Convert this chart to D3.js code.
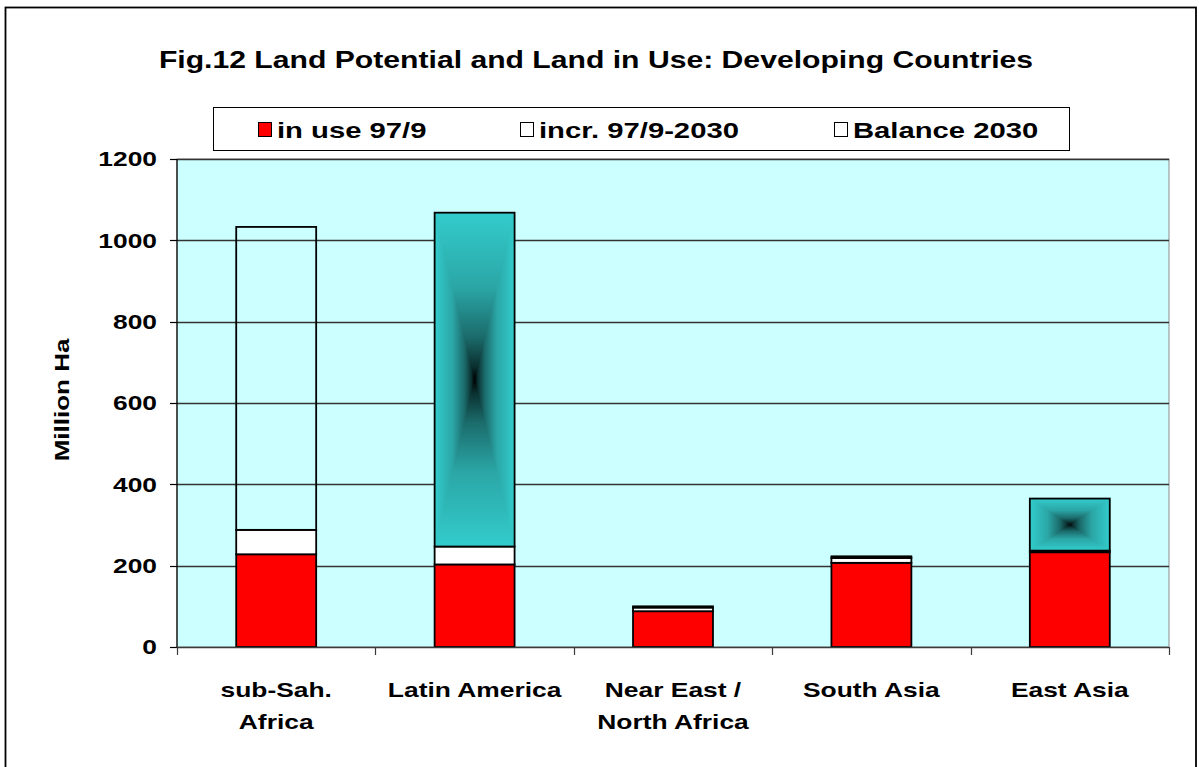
<!DOCTYPE html>
<html>
<head>
<meta charset="utf-8">
<script src="https://cdn.jsdelivr.net/npm/d3@7/dist/d3.min.js"></script>
<style>
  html, body { margin: 0; padding: 0; background: #fff; }
  svg { display: block; }
  text { font-family: "Liberation Sans", Arial, sans-serif; font-weight: bold; fill: #000; }
</style>
</head>
<body>
<svg id="chart" width="1199" height="767"></svg>
<script>
// Land potential and land in use, developing regions (million ha)
const categories = ["sub-Sah. Africa", "Latin America", "Near East / North Africa", "South Asia", "East Asia"];
const categoryLines = [["sub-Sah.", "Africa"], ["Latin America"], ["Near East /", "North Africa"], ["South Asia"], ["East Asia"]];
const inUse = [228, 203, 88, 207, 233];
const incr = [60, 44, 9, 12, 4];
const balance = [745, 821, 3, 4, 128];
const seriesKeys = ["inUse", "incr", "balance"];
const seriesNames = ["in use 97/9", "incr. 97/9-2030", "Balance 2030"];
const yTicks = [0, 200, 400, 600, 800, 1000, 1200];
const titleText = "Fig.12 Land Potential and Land in Use: Developing Countries";
const yTitle = "Million Ha";

// balance segments drawn with the dark centre shading
const shadedBalance = new Set(["Latin America", "East Asia"]);

const svg = d3.select("#chart");
const SX = 1.3; // horizontal text stretch

const plot = { left: 177, right: 1169, top: 159, bottom: 647 };

const x = d3.scaleBand()
  .domain(categories)
  .range([plot.left, plot.right])
  .paddingInner(0.597)
  .paddingOuter(0.2985);

const slot = d3.scaleBand().domain(categories).range([plot.left, plot.right]).padding(0);

const y = d3.scaleLinear().domain([0, 1200]).range([plot.bottom, plot.top]);

// outer frame
svg.append("rect")
  .attr("x", 5.5).attr("y", 7.5)
  .attr("width", 1190.5).attr("height", 800)
  .attr("fill", "#fff").attr("stroke", "#000").attr("stroke-width", 1.8);

// gradients: teal at the edge, black at the centre
const defs = svg.append("defs");
const rampStops = [
  [0, "#33cccc"], [0.45, "#2ba6a6"], [0.75, "#1b6a6a"], [0.92, "#0b3030"], [1, "#000000"]
];
function makeGrad(id, x1, y1, x2, y2) {
  const g = defs.append("linearGradient").attr("id", id)
    .attr("x1", x1).attr("y1", y1).attr("x2", x2).attr("y2", y2);
  g.selectAll("stop").data(rampStops).join("stop")
    .attr("offset", d => d[0]).attr("stop-color", d => d[1]);
}
makeGrad("g-top", 0, 0, 0, 1);
makeGrad("g-bottom", 0, 1, 0, 0);
makeGrad("g-left", 0, 0, 1, 0);
makeGrad("g-right", 1, 0, 0, 0);

// plot area
svg.append("rect")
  .attr("x", plot.left).attr("y", plot.top)
  .attr("width", plot.right - plot.left).attr("height", plot.bottom - plot.top)
  .attr("fill", "#ccffff").attr("stroke", "#8c8c8c").attr("stroke-width", 1);

// gridlines
svg.append("g").selectAll("line").data(yTicks.filter(d => d > 0)).join("line")
  .attr("x1", plot.left).attr("x2", plot.right)
  .attr("y1", d => Math.round(y(d)) + 0.5).attr("y2", d => Math.round(y(d)) + 0.5)
  .attr("stroke", "#333").attr("stroke-width", 1.3);

// stacked data
const rows = categories.map((c, i) => ({ cat: c, inUse: inUse[i], incr: incr[i], balance: balance[i] }));
const stacked = d3.stack().keys(seriesKeys)(rows);

const fills = { inUse: "#ff0000", incr: "#ffffff", balance: "none" };

const barG = svg.append("g");

stacked.forEach(series => {
  const key = series.key;
  series.forEach(seg => {
    const cat = seg.data.cat;
    const x0 = x(cat), x1 = x(cat) + x.bandwidth();
    const yTop = y(seg[1]), yBot = y(seg[0]);
    const g = barG.append("g");
    if (key === "balance" && shadedBalance.has(cat)) {
      const cx = (x0 + x1) / 2, cy = (yTop + yBot) / 2;
      g.append("rect").attr("x", x0).attr("y", yTop).attr("width", x1 - x0).attr("height", cy - yTop)
        .attr("fill", "url(#g-top)");
      g.append("rect").attr("x", x0).attr("y", cy).attr("width", x1 - x0).attr("height", yBot - cy)
        .attr("fill", "url(#g-bottom)");
      const tri = d3.line();
      g.append("path").attr("d", tri([[x0, yTop], [cx, cy], [x0, yBot]]) + "Z").attr("fill", "url(#g-left)");
      g.append("path").attr("d", tri([[x1, yTop], [cx, cy], [x1, yBot]]) + "Z").attr("fill", "url(#g-right)");
    }
    g.append("rect")
      .attr("x", x0).attr("y", yTop)
      .attr("width", x1 - x0).attr("height", Math.max(0, yBot - yTop))
      .attr("fill", fills[key])
      .attr("stroke", "#000").attr("stroke-width", 1.8);
  });
});

// y axis
const yAxis = svg.append("g");
yAxis.append("line")
  .attr("x1", plot.left).attr("x2", plot.left)
  .attr("y1", plot.top).attr("y2", plot.bottom)
  .attr("stroke", "#000").attr("stroke-width", 1.2);
yAxis.selectAll("line.tick").data(yTicks).join("line").attr("class", "tick")
  .attr("x1", plot.left - 7).attr("x2", plot.left)
  .attr("y1", d => Math.round(y(d)) + 0.5).attr("y2", d => Math.round(y(d)) + 0.5)
  .attr("stroke", "#000").attr("stroke-width", 1.2);
yAxis.selectAll("text").data(yTicks).join("text")
  .attr("transform", d => `translate(157,${y(d) + 7.3}) scale(${SX},1)`)
  .attr("text-anchor", "end")
  .attr("font-size", 20.3)
  .text(d => d);

// x axis
const xAxis = svg.append("g");
xAxis.append("line")
  .attr("x1", plot.left).attr("x2", plot.right)
  .attr("y1", plot.bottom + 0.5).attr("y2", plot.bottom + 0.5)
  .attr("stroke", "#3a3a3a").attr("stroke-width", 1.5);
const bounds = categories.map(c => slot(c)).concat([plot.right]);
xAxis.selectAll("line.tick").data(bounds).join("line").attr("class", "tick")
  .attr("x1", d => Math.round(d) + 0.5).attr("x2", d => Math.round(d) + 0.5)
  .attr("y1", plot.bottom).attr("y2", plot.bottom + 8)
  .attr("stroke", "#3a3a3a").attr("stroke-width", 1.2);
categories.forEach((c, i) => {
  const cx = slot(c) + slot.bandwidth() / 2;
  xAxis.append("g").selectAll("text").data(categoryLines[i]).join("text")
    .attr("transform", (d, j) => `translate(${cx},${697 + j * 32}) scale(${SX},1)`)
    .attr("text-anchor", "middle")
    .attr("font-size", 20.3)
    .text(d => d);
});

// y title
svg.append("text")
  .attr("transform", `translate(69,400) rotate(-90) scale(${SX},1)`)
  .attr("text-anchor", "middle")
  .attr("font-size", 20)
  .text(yTitle);

// title
svg.append("text")
  .attr("transform", `translate(596,68) scale(1.3,1)`)
  .attr("text-anchor", "middle")
  .attr("font-size", 23.2)
  .text(titleText);

// legend
const legend = svg.append("g");
legend.append("rect")
  .attr("x", 213.5).attr("y", 107.5).attr("width", 856).attr("height", 43)
  .attr("fill", "#fff").attr("stroke", "#000").attr("stroke-width", 1);
const legendX = [258, 520, 834];
const legendFill = ["#ff0000", "#ffffff", "#ffffff"];
const items = legend.selectAll("g.item").data(seriesNames).join("g").attr("class", "item");
items.append("rect")
  .attr("x", (d, i) => legendX[i] + 0.5).attr("y", 122.5)
  .attr("width", 13).attr("height", 14)
  .attr("fill", (d, i) => legendFill[i])
  .attr("stroke", "#000").attr("stroke-width", 1);
items.append("text")
  .attr("transform", (d, i) => `translate(${legendX[i] + 19},137.5) scale(${SX},1)`)
  .attr("font-size", 22.5)
  .text(d => d);
</script>
</body>
</html>
